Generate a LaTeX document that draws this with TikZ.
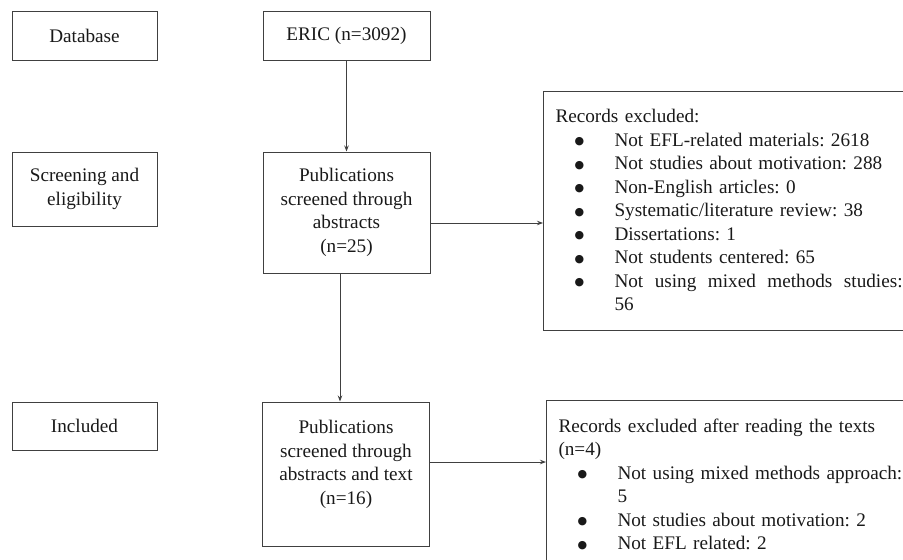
\documentclass[tikz,border=0pt]{standalone}
\usepackage{fontspec}
\setmainfont{Liberation Serif}
\newfontfamily\dotfont{DejaVu Sans}
\usetikzlibrary{arrows.meta}
\usetikzlibrary{positioning}
\frenchspacing
\newcommand{\recitem}[1]{\hspace*{19pt}\makebox[40pt][l]{\raisebox{1.5pt}{\dotfont\fontsize{11}{11}\selectfont ●}}#1}

\begin{document}
\begin{tikzpicture}[x=1pt,y=-1pt,
  every node/.style={draw=black!75,line width=1pt,text=black!90,font=\fontsize{19.2}{23.5}\selectfont},
  stagebox/.style={minimum width=145pt,align=center},
  pubbox/.style={minimum width=167pt,align=center},
  recbox/.style={draw=none,anchor=base west,inner xsep=12pt,inner ysep=17pt,align=left},
  boxline/.style={draw=black!75,line width=1pt},
  flow/.style={draw=black!75,line width=1pt,-{Stealth[length=6pt,width=4.5pt]}}]
\useasboundingbox (0,0) rectangle (903,560);

\node[stagebox,minimum height=49pt] (db) at (84.5,35.5) {Database};
\node[stagebox,minimum height=74pt] (screen) at (84.5,189) {Screening and\\eligibility};
\node[stagebox,minimum height=48pt] (incl) at (84.5,426) {Included};

\node[pubbox,minimum height=49pt] (eric) at (346.5,35.5) {ERIC (n=3092)};
\node[pubbox,minimum height=121pt] (pub1) at (346.5,212.5) {Publications\\screened through\\abstracts\\(n=25)};
\node[pubbox,minimum height=144pt] (pub2) at (346,474) {Publications\\screened through\\abstracts and text\\(n=16)\\~};

\node[recbox,text width=380pt,text depth=190.5pt] (rec1) at (543,122.5) {Records excluded:\\
\recitem{Not EFL-related materials: 2618}\\
\recitem{Not studies about motivation: 288}\\
\recitem{Non-English articles: 0}\\
\recitem{Systematic/literature review: 38}\\
\recitem{Dissertations: 1}\\
\recitem{Not students centered: 65}\\
\recitem{Not\hspace{11.5pt}using\hspace{11.5pt}mixed\hspace{11.5pt}methods\hspace{11.5pt}studies:}\\
\hspace*{59pt}56};
\node[recbox,text width=380pt,text depth=150pt] (rec2) at (546,432) {Records excluded after reading the texts\\
(n=4)\\
\recitem{Not using mixed methods approach:}\\
\hspace*{59pt}5\\
\recitem{Not studies about motivation: 2}\\
\recitem{Not EFL related: 2}};
\draw[boxline] (rec1.north east) -- (rec1.north west) -- (rec1.south west) -- (rec1.south east);
\draw[boxline] (rec2.north east) -- (rec2.north west) -- (rec2.south west) -- (rec2.south east);

\draw[flow] (eric)--(pub1); \draw[flow] ([xshift=-6.5pt]pub1.south)--([xshift=-6.5pt]pub1.south |- pub2.north);
\draw[flow] ([yshift=-10.5pt]pub1.east)--([yshift=-10.5pt]pub1.east -| rec1.west);
\draw[flow] ([yshift=12pt]pub2.east)--([yshift=12pt]pub2.east -| rec2.west);
\end{tikzpicture}
\end{document}
